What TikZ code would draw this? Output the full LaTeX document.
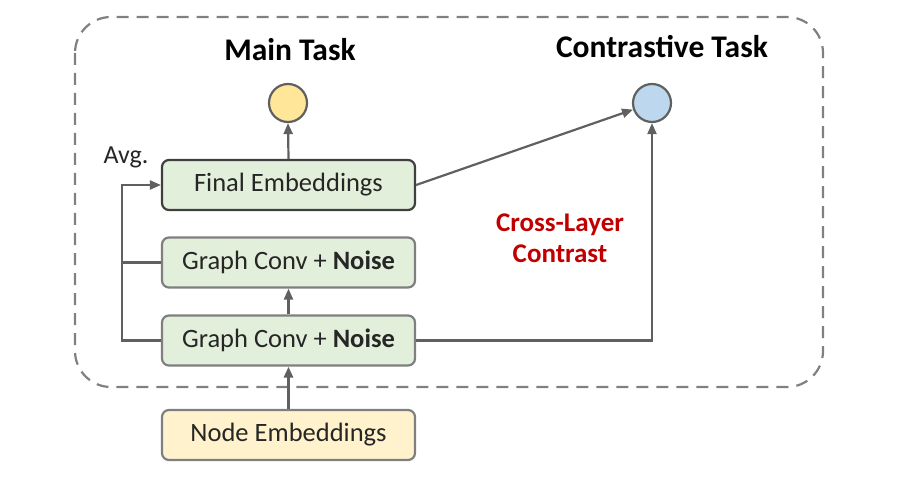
\documentclass[tikz,border=0pt]{standalone}
\usepackage{fontspec}
\setmainfont{Carlito}
\usetikzlibrary{arrows.meta}
\definecolor{linegray}{HTML}{606060}
\definecolor{boxgray}{HTML}{7F7F7F}
\definecolor{darkborder}{HTML}{3F3F3F}
\definecolor{dashgray}{HTML}{808080}
\definecolor{greenfill}{HTML}{E2EFDA}
\definecolor{yellowfill}{HTML}{FFF2CC}
\definecolor{ycirc}{HTML}{FFE699}
\definecolor{bcirc}{HTML}{BDD7EE}
\definecolor{textdark}{HTML}{262626}
\definecolor{redtext}{HTML}{C00000}
\begin{document}
\begin{tikzpicture}[x=1pt,y=-1pt,
  box/.style={draw=boxgray, line width=2.2pt, rounded corners=7pt, minimum width=253pt, minimum height=50pt, inner sep=0pt, font=\fontsize{26.5}{30}\selectfont, text=textdark},
  circ/.style={circle, draw=linegray, line width=2.2pt, minimum size=38pt, inner sep=0pt},
  conn/.style={draw=linegray, line width=2.2pt, -{Triangle[length=11pt,width=9pt]}},
  plainline/.style={draw=linegray, line width=2.2pt},
  title/.style={font=\fontsize{31.5}{36}\selectfont\bfseries, text=black},
  lbl/.style={font=\fontsize{26}{31}\selectfont, text=textdark}]
\useasboundingbox (0,0) rectangle (909,494);
\draw[dashgray, line width=2.2pt, dash pattern=on 12pt off 8pt, rounded corners=36pt] (75,17) rectangle (823,387);
\node[box, fill=greenfill, draw=darkborder] (fe) at (288.5,185) {Final Embeddings};
\node[box, fill=greenfill] (gc1) at (288.5,262.5) {Graph Conv + \textbf{Noise}};
\node[box, fill=greenfill] (gc2) at (288.5,340.5) {Graph Conv + \textbf{Noise}};
\node[box, fill=yellowfill] (ne) at (288.5,435) {Node Embeddings};
\node[circ, fill=ycirc] (main) at (288,103) {};
\node[circ, fill=bcirc] (ctr) at (652,103) {};
\node[title] (mt) at (290,50) {Main Task};
\node[title] (ct) at (662,47) {Contrastive Task};
\node[lbl] (avg) at (126,157) {Avg.};
\node[lbl, align=center, text=redtext, font=\fontsize{27}{31}\selectfont\bfseries] (cl) at (560,238) {Cross-Layer\\Contrast};
\coordinate (lx) at (122,0);
\draw[conn] (fe.north) -- (main.south);
\draw[conn] (fe.east) -- (ctr);
\draw[conn] (gc2.east) -| (ctr.south);
\draw[conn] (gc2.north) -- (gc1.south);
\draw[conn, line width=3.2pt] (ne.north) -- (gc2.south);
\draw[plainline] (gc1.west) -- (gc1.west -| lx);
\draw[conn] (gc2.west) -- (gc2.west -| lx) |- (fe.west);
\end{tikzpicture}
\end{document}
